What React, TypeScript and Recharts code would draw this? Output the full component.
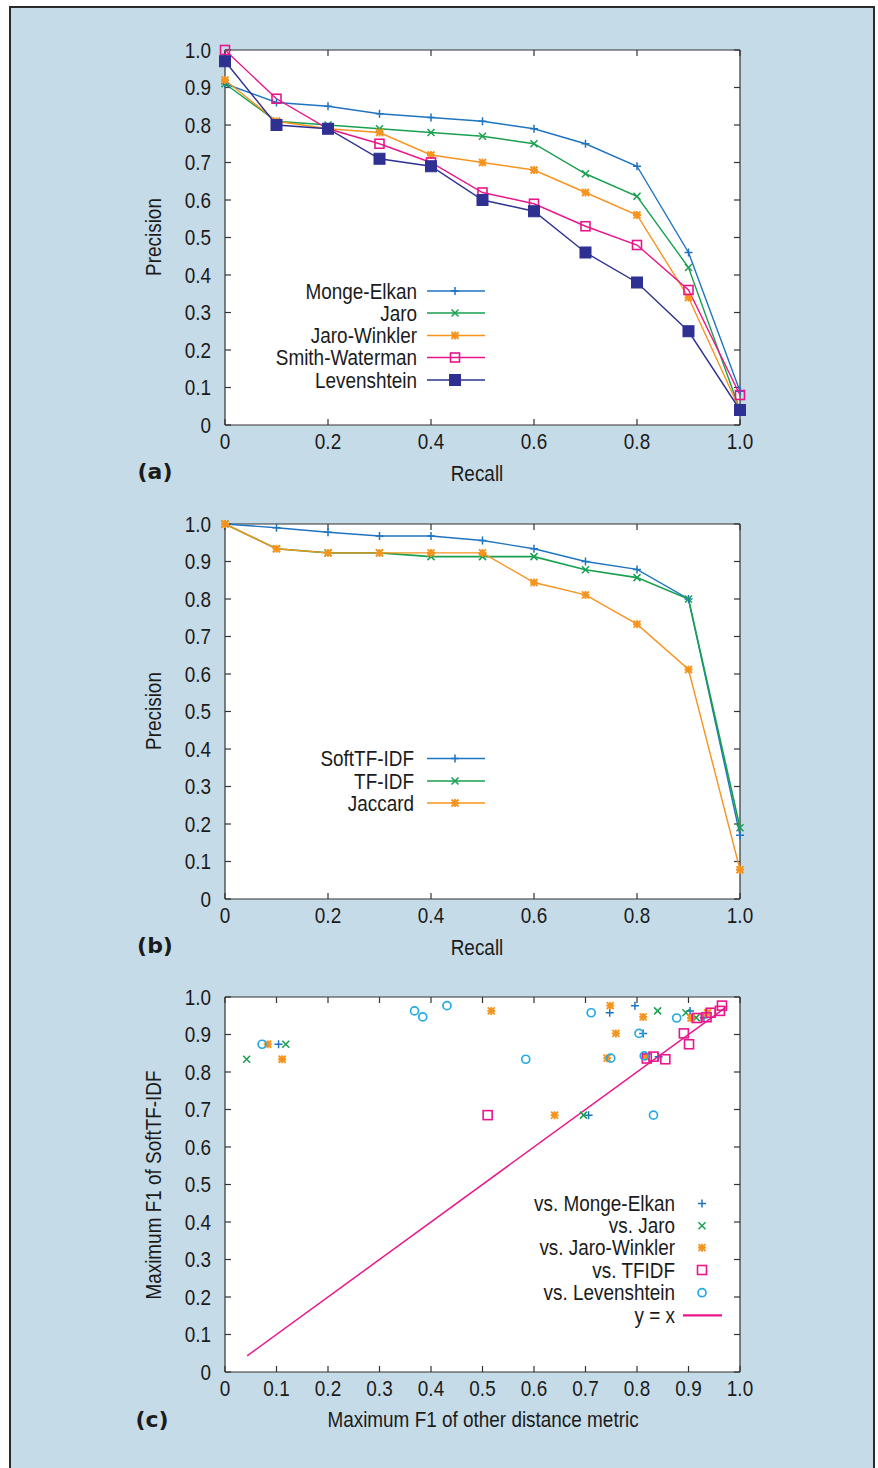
import React from 'react';
import { LineChart, Line, XAxis, YAxis, ScatterChart, Scatter, ReferenceLine } from 'recharts';

// ---------- data ----------
const recall = [0, 0.1, 0.2, 0.3, 0.4, 0.5, 0.6, 0.7, 0.8, 0.9, 1.0];

// panel (a)
const mongeElkan = [0.91, 0.86, 0.85, 0.83, 0.82, 0.81, 0.79, 0.75, 0.69, 0.46, 0.09];
const jaro = [0.91, 0.81, 0.80, 0.79, 0.78, 0.77, 0.75, 0.67, 0.61, 0.42, 0.04];
const jaroWinkler = [0.92, 0.81, 0.79, 0.78, 0.72, 0.70, 0.68, 0.62, 0.56, 0.34, 0.04];
const smithWaterman = [1.0, 0.87, 0.79, 0.75, 0.70, 0.62, 0.59, 0.53, 0.48, 0.36, 0.08];
const levenshtein = [0.97, 0.80, 0.79, 0.71, 0.69, 0.60, 0.57, 0.46, 0.38, 0.25, 0.04];

// panel (b)
const softTfIdf = [1.0, 0.99, 0.978, 0.968, 0.968, 0.956, 0.934, 0.90, 0.879, 0.80, 0.17];
const tfIdf = [1.0, 0.934, 0.923, 0.923, 0.913, 0.913, 0.913, 0.878, 0.857, 0.80, 0.19];
const jaccard = [1.0, 0.934, 0.923, 0.923, 0.923, 0.923, 0.844, 0.811, 0.733, 0.612, 0.078];

// panel (c): [max F1 of other metric, max F1 of SoftTF-IDF]
const vsMongeElkan = [
  [0.747, 0.958], [0.796, 0.977], [0.903, 0.963], [0.93, 0.945], [0.812, 0.903],
  [0.104, 0.874], [0.842, 0.841], [0.706, 0.685],
];
const vsJaro = [
  [0.84, 0.963], [0.895, 0.958], [0.915, 0.945], [0.118, 0.874], [0.042, 0.834], [0.696, 0.685],
];
const vsJaroWinkler = [
  [0.517, 0.963], [0.748, 0.977], [0.812, 0.947], [0.905, 0.944], [0.937, 0.958],
  [0.759, 0.903], [0.083, 0.874], [0.111, 0.834], [0.742, 0.837], [0.817, 0.841], [0.64, 0.685],
];
const vsTfIdf = [
  [0.916, 0.944], [0.935, 0.946], [0.943, 0.958], [0.961, 0.963], [0.965, 0.977],
  [0.891, 0.903], [0.901, 0.874], [0.819, 0.836], [0.832, 0.841], [0.855, 0.834], [0.51, 0.685],
];
const vsLevenshtein = [
  [0.368, 0.963], [0.384, 0.947], [0.431, 0.977], [0.711, 0.958], [0.877, 0.944],
  [0.804, 0.903], [0.072, 0.874], [0.584, 0.834], [0.749, 0.837], [0.814, 0.843], [0.832, 0.685],
];
const identityRange = [0.043, 0.975];

const ticksFifth = [0, 0.2, 0.4, 0.6, 0.8, 1.0];
const ticksTenth = [0, 0.1, 0.2, 0.3, 0.4, 0.5, 0.6, 0.7, 0.8, 0.9, 1.0];

// ---------- style ----------
const FONT = '"Liberation Sans", Arial, Helvetica, sans-serif';
const NARROW = 0.88;
const FS = 21.5;
const BLUE = '#1f74c0';
const GREEN = '#17a04f';
const ORANGE = '#f7941e';
const MAGENTA = '#e8168b';
const NAVY = '#2e3192';
const CYAN = '#22abe6';
const TEXT = '#1b1b1b';
const AXIS = '#333';

const W = 878;
const H = 480;
const PLOT = { left: 225, top: 50, width: 515, height: 375 };
const MARGIN = { top: 50, left: 165, right: 138, bottom: 25 };
const TICK_X = 6 / PLOT.width; // inward tick length in data units (horizontal)
const TICK_Y = 6 / PLOT.height; // inward tick length in data units (vertical)

const fmt = (v: number) => (v === 0 ? '0' : v.toFixed(1));

type Kind = 'plus' | 'cross' | 'star' | 'square' | 'fsquare' | 'circle';

function marker(kind: Kind, color: string, cx: number, cy: number, key?: string | number) {
  switch (kind) {
    case 'plus':
      return <path key={key} d={`M${cx - 4},${cy}H${cx + 4}M${cx},${cy - 4}V${cy + 4}`} stroke={color} strokeWidth={1.5} fill="none" />;
    case 'cross':
      return <path key={key} d={`M${cx - 3.5},${cy - 3.5}L${cx + 3.5},${cy + 3.5}M${cx - 3.5},${cy + 3.5}L${cx + 3.5},${cy - 3.5}`} stroke={color} strokeWidth={1.5} fill="none" />;
    case 'star':
      return (
        <g key={key}>
          <path d={`M${cx - 4},${cy}H${cx + 4}M${cx},${cy - 4}V${cy + 4}M${cx - 3.5},${cy - 3.5}L${cx + 3.5},${cy + 3.5}M${cx - 3.5},${cy + 3.5}L${cx + 3.5},${cy - 3.5}`} stroke={color} strokeWidth={1.8} fill="none" />
          <rect x={cx - 2.5} y={cy - 2.5} width={5} height={5} fill={color} />
        </g>
      );
    case 'square':
      return <rect key={key} x={cx - 4.5} y={cy - 4.5} width={9} height={9} stroke={color} strokeWidth={1.6} fill="none" />;
    case 'fsquare':
      return <rect key={key} x={cx - 5.5} y={cy - 5.5} width={11} height={11} fill={color} stroke={color} strokeWidth={1} />;
    case 'circle':
    default:
      return <circle key={key} cx={cx} cy={cy} r={4} stroke={color} strokeWidth={1.7} fill="none" />;
  }
}

function NarrowTick(props: any) {
  const { x, y, payload, textAnchor, verticalAnchor } = props;
  const dy = verticalAnchor === 'start' ? '0.71em' : '0.355em';
  return (
    <g transform={`translate(${x},${y})`}>
      <text
        transform={`scale(${NARROW},1)`}
        textAnchor={textAnchor}
        dy={dy}
        fontSize={FS}
        fill={TEXT}
        fontFamily={FONT}
      >
        {fmt(payload.value)}
      </text>
    </g>
  );
}

function frameAxes(xTicks: number[], yTicks: number[], xKey: string, yKey?: string) {
  const els: React.ReactElement[] = [
    <XAxis
      key="xb"
      dataKey={xKey}
      type="number"
      domain={[0, 1]}
      ticks={xTicks}
      interval={0}
      axisLine={false}
      tickLine={false}
      tickSize={0}
      tickMargin={9}
      height={30}
      tick={<NarrowTick />}
    />,
    <YAxis
      key="yl"
      dataKey={yKey}
      type="number"
      domain={[0, 1]}
      ticks={yTicks}
      interval={0}
      axisLine={false}
      tickLine={false}
      tickSize={0}
      tickMargin={14}
      width={60}
      tick={<NarrowTick />}
    />,
  ];
  // plot frame (all four sides)
  els.push(<ReferenceLine key="f-l" x={0} stroke={AXIS} strokeWidth={1.2} />);
  els.push(<ReferenceLine key="f-r" x={1} stroke={AXIS} strokeWidth={1.2} />);
  els.push(<ReferenceLine key="f-b" y={0} stroke={AXIS} strokeWidth={1.2} />);
  els.push(<ReferenceLine key="f-t" y={1} stroke={AXIS} strokeWidth={1.2} />);
  // inward, mirrored tick marks
  xTicks.forEach((t) => {
    els.push(<ReferenceLine key={`xb-${t}`} segment={[{ x: t, y: 0 }, { x: t, y: TICK_Y }]} stroke={AXIS} strokeWidth={1.2} />);
    els.push(<ReferenceLine key={`xt-${t}`} segment={[{ x: t, y: 1 }, { x: t, y: 1 - TICK_Y }]} stroke={AXIS} strokeWidth={1.2} />);
  });
  yTicks.forEach((t) => {
    els.push(<ReferenceLine key={`yl-${t}`} segment={[{ x: 0, y: t }, { x: TICK_X, y: t }]} stroke={AXIS} strokeWidth={1.2} />);
    els.push(<ReferenceLine key={`yr-${t}`} segment={[{ x: 1, y: t }, { x: 1 - TICK_X, y: t }]} stroke={AXIS} strokeWidth={1.2} />);
  });
  return els;
}

type Entry = { name: string; color: string; kind: Kind | null; line: boolean };

function LegendOverlay({ entries, textRight, markerX, lineX1, lineX2, ys }: {
  entries: Entry[]; textRight: number; markerX: number; lineX1: number; lineX2: number; ys: number[];
}) {
  return (
    <svg width={W} height={H} style={{ position: 'absolute', left: 0, top: 0, pointerEvents: 'none' }}>
      {entries.map((e, i) => (
        <g key={e.name}>
          <g transform={`translate(${textRight},${ys[i]})`}>
            <text transform={`scale(${NARROW},1)`} textAnchor="end" dy="0.355em" fontSize={FS} fill={TEXT} fontFamily={FONT}>
              {e.name}
            </text>
          </g>
          {e.line && <line x1={lineX1} x2={lineX2} y1={ys[i]} y2={ys[i]} stroke={e.color} strokeWidth={e.kind ? 1.4 : 2.2} />}
          {e.kind && marker(e.kind, e.color, markerX, ys[i])}
        </g>
      ))}
    </svg>
  );
}

function Title({ x, y, text, rotate, bold }: { x: number; y: number; text: string; rotate?: boolean; bold?: boolean }) {
  return (
    <div
      style={{
        position: 'absolute',
        left: x,
        top: y,
        transform: `translate(-50%, -50%)${rotate ? ' rotate(-90deg)' : ''}${bold ? '' : ` scaleX(${NARROW})`}`,
        fontSize: bold ? 22 : FS,
        fontWeight: bold ? 'bold' : 'normal',
        fontFamily: bold ? '"DejaVu Sans", sans-serif' : FONT,
        color: TEXT,
        whiteSpace: 'nowrap',
        lineHeight: 1,
      }}
    >
      {text}
    </div>
  );
}

function PlotBackground() {
  return (
    <div
      style={{
        position: 'absolute', left: PLOT.left, top: PLOT.top, width: PLOT.width, height: PLOT.height, background: '#ffffff',
      }}
    />
  );
}

type LineSeries = { key: string; name: string; values: number[]; color: string; kind: Kind; width: number };

const seriesA: LineSeries[] = [
  { key: 'me', name: 'Monge-Elkan', values: mongeElkan, color: BLUE, kind: 'plus', width: 1.4 },
  { key: 'ja', name: 'Jaro', values: jaro, color: GREEN, kind: 'cross', width: 1.4 },
  { key: 'jw', name: 'Jaro-Winkler', values: jaroWinkler, color: ORANGE, kind: 'star', width: 1.4 },
  { key: 'sw', name: 'Smith-Waterman', values: smithWaterman, color: MAGENTA, kind: 'square', width: 1.4 },
  { key: 'lv', name: 'Levenshtein', values: levenshtein, color: NAVY, kind: 'fsquare', width: 1.4 },
];

const seriesB: LineSeries[] = [
  { key: 'st', name: 'SoftTF-IDF', values: softTfIdf, color: BLUE, kind: 'plus', width: 1.4 },
  { key: 'tf', name: 'TF-IDF', values: tfIdf, color: GREEN, kind: 'cross', width: 1.6 },
  { key: 'jc', name: 'Jaccard', values: jaccard, color: ORANGE, kind: 'star', width: 1.4 },
];

const seriesC: { name: string; points: number[][]; color: string; kind: Kind }[] = [
  { name: 'vs. Monge-Elkan', points: vsMongeElkan, color: BLUE, kind: 'plus' },
  { name: 'vs. Jaro', points: vsJaro, color: GREEN, kind: 'cross' },
  { name: 'vs. Jaro-Winkler', points: vsJaroWinkler, color: ORANGE, kind: 'star' },
  { name: 'vs. TFIDF', points: vsTfIdf, color: MAGENTA, kind: 'square' },
  { name: 'vs. Levenshtein', points: vsLevenshtein, color: CYAN, kind: 'circle' },
];

function buildRows(series: { key: string; values: number[] }[]) {
  return recall.map((r, i) => {
    const row: Record<string, number> = { recall: r };
    series.forEach((s) => { row[s.key] = s.values[i]; });
    return row;
  });
}

function PRPanel({ top, series, label, legendYs, textRight }: {
  top: number; series: LineSeries[]; label: string; legendYs: number[]; textRight: number;
}) {
  const rows = buildRows(series);
  return (
    <div style={{ position: 'absolute', left: 0, top, width: W, height: H }}>
      <PlotBackground />
      <div style={{ position: 'absolute', left: 0, top: 0 }}>
        <LineChart width={W} height={H} data={rows} margin={MARGIN}>
          {frameAxes(ticksFifth, ticksTenth, 'recall')}
          {series.map((s) => (
            <Line
              key={s.key}
              dataKey={s.key}
              name={s.name}
              stroke={s.color}
              strokeWidth={s.width}
              isAnimationActive={false}
              activeDot={false}
              dot={(p: any) => marker(s.kind, s.color, p.cx, p.cy, `${s.key}-${p.index}`)}
            />
          ))}
        </LineChart>
      </div>
      <LegendOverlay
        entries={series.map((s) => ({ name: s.name, color: s.color, kind: s.kind, line: true }))}
        textRight={textRight}
        markerX={455}
        lineX1={427}
        lineX2={485}
        ys={legendYs}
      />
      <Title x={477} y={475} text="Recall" />
      <Title x={155} y={237} text="Precision" rotate />
      <Title x={155} y={472} text={label} bold />
    </div>
  );
}

export default function App() {
  const identity = identityRange.map((v) => ({ x: v, y: v }));
  return (
    <div style={{ position: 'absolute', left: 0, top: 0, width: 878, height: 1468, overflow: 'hidden', background: '#fff' }}>
      <div
        style={{
          position: 'absolute', left: 9, top: 6, width: 866, height: 1475,
          boxSizing: 'border-box', border: '2px solid #2a2a2a', background: '#c6dbe8',
        }}
      />
      <PRPanel top={0} series={seriesA} label="(a)" legendYs={[291, 313, 335.5, 357.5, 380]} textRight={417} />
      <PRPanel top={474} series={seriesB} label="(b)" legendYs={[284.5, 307, 329]} textRight={414} />

      <div style={{ position: 'absolute', left: 0, top: 947, width: W, height: H }}>
        <PlotBackground />
        <div style={{ position: 'absolute', left: 0, top: 0 }}>
          <ScatterChart width={W} height={H} margin={MARGIN}>
            {frameAxes(ticksTenth, ticksTenth, 'x', 'y')}
            <Scatter
              name="y = x"
              data={identity}
              line={{ stroke: MAGENTA, strokeWidth: 1.5 }}
              lineType="joint"
              shape={() => <g />}
              isAnimationActive={false}
            />
            {seriesC.map((s) => (
              <Scatter
                key={s.name}
                name={s.name}
                data={s.points.map(([x, y]) => ({ x, y }))}
                fill={s.color}
                isAnimationActive={false}
                shape={(p: any) => marker(s.kind, s.color, p.cx, p.cy)}
              />
            ))}
          </ScatterChart>
        </div>
        <LegendOverlay
          entries={[
            ...seriesC.map((s) => ({ name: s.name, color: s.color, kind: s.kind, line: false })),
            { name: 'y = x', color: MAGENTA, kind: null, line: true },
          ]}
          textRight={675}
          markerX={702}
          lineX1={683}
          lineX2={722}
          ys={[256.5, 278.7, 300.7, 323, 345.7, 368.3]}
        />
        <Title x={483} y={474} text="Maximum F1 of other distance metric" />
        <Title x={155} y={238} text="Maximum F1 of SoftTF-IDF" rotate />
        <Title x={152} y={473} text="(c)" bold />
      </div>
    </div>
  );
}
